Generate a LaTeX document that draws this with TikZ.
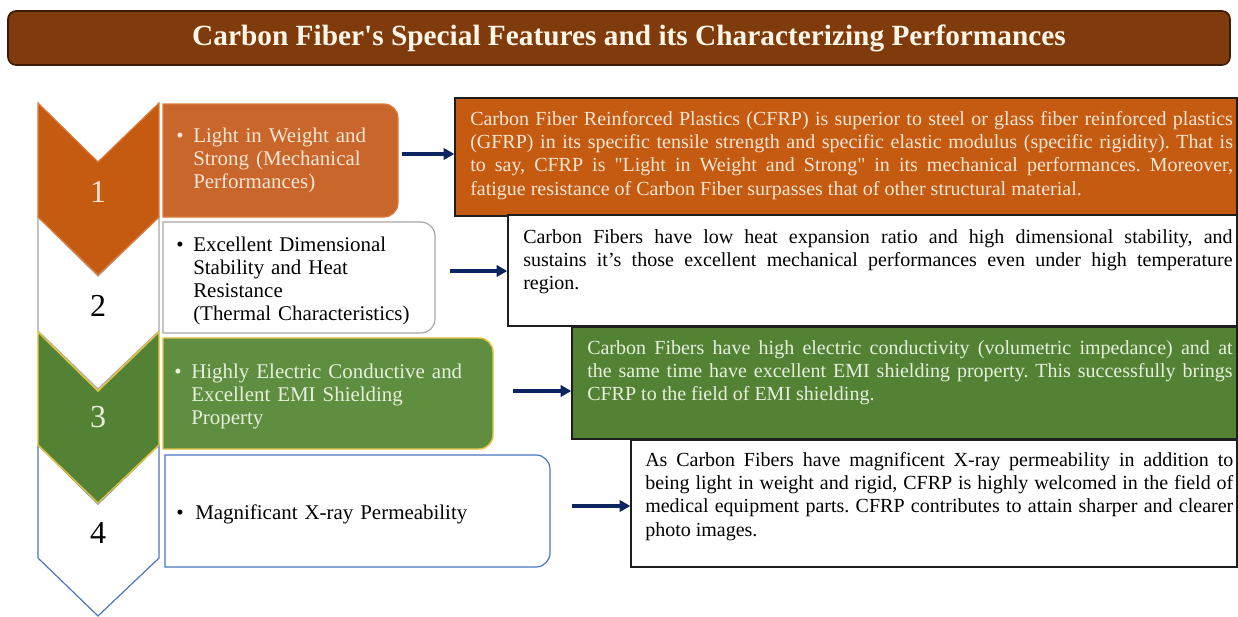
\documentclass[tikz,border=0pt]{standalone}
\usepackage{fontspec}
\setmainfont{Liberation Serif}[Ligatures=TeXOff]
\usetikzlibrary{arrows.meta,fit}
\definecolor{titlebg}{HTML}{7F3B0B}
\definecolor{titleln}{HTML}{3B1A06}
\definecolor{titletx}{HTML}{FFF6E8}
\definecolor{orng}{HTML}{C55A11}
\definecolor{orngbox}{HTML}{C8662C}
\definecolor{orngln}{HTML}{DD7A3A}
\definecolor{grn}{HTML}{548235}
\definecolor{grnbox}{HTML}{5F8E40}
\definecolor{gold}{HTML}{E2C23E}
\definecolor{grayln}{HTML}{A6A6A6}
\definecolor{blueln}{HTML}{4A76C0}
\definecolor{navy}{HTML}{0B2560}
\definecolor{creamO}{HTML}{F8E6D4}
\definecolor{creamG}{HTML}{E6F0DD}
\definecolor{dark}{HTML}{1E1E1E}
\newcommand\featshape[6]{\draw[#6] (#1,#2) -- ({#3-#5},#2) arc[start angle=-90,end angle=0,radius=#5] -- (#3,{#4-#5}) arc[start angle=0,end angle=90,radius=#5] -- (#1,#4) -- cycle;}
\newcommand\chevshape[3]{\draw[#3] (38,#1) -- (98,{#1+59}) -- (159,#1) -- (159,#2) -- (98,{#2+58}) -- (38,#2) -- cycle;}
\begin{document}
\frenchspacing
\begin{tikzpicture}[x=0.75pt,y=-0.75pt,
  body/.style={font=\fontsize{15}{17.5}\selectfont\frenchspacing},
  fbody/.style={font=\fontsize{15.7}{17.3}\selectfont\frenchspacing},
  desctext/.style={body, anchor=base west, inner sep=0pt, align=justify},
  feattext/.style={fbody, anchor=base west, inner sep=0pt, align=left, text width=260pt},
  bullet/.style={fbody, anchor=base west, inner sep=0pt},
  numtext/.style={font=\fontsize{24}{24}\selectfont, inner sep=0pt},
  descbox/.style={inner sep=0pt, line width=1.1pt},
  arr/.style={draw=navy, line width=2.4pt, -{Triangle[length=8pt,width=8.5pt]}}
]
\useasboundingbox (0,0) rectangle (1238,617);
\fill[white] (0,0) rectangle (1238,617);

% title
\draw[fill=titlebg, draw=titleln, line width=1.2pt, rounded corners=6pt] (8,11) rectangle (1230,65);
\node[text=titletx, font=\fontsize{22}{24}\selectfont\bfseries, inner sep=0pt] (title) at (629,38) {Carbon Fiber's Special Features and its Characterizing Performances};

% chevrons
\chevshape{217}{331}{fill=white, draw=grayln, line width=0.9pt}
\chevshape{103}{217}{fill=orng, draw=orngln, line width=0.9pt}
\chevshape{445}{558}{fill=white, draw=blueln, line width=0.9pt}
\chevshape{332}{445}{fill=grn, draw=gold, line width=1.1pt}
\node[numtext, text=creamO] (n1) at (98,192) {1};
\node[numtext, text=black] (n2) at (98,306) {2};
\node[numtext, text=creamG] (n3) at (98,417) {3};
\node[numtext, text=black] (n4) at (98,533) {4};

% feature boxes
\featshape{163}{104}{398}{217}{14}{fill=orngbox, draw=orngln, line width=0.9pt}
\featshape{163}{222}{435}{333}{14}{fill=white, draw=grayln, line width=0.9pt}
\featshape{163}{338}{493}{449}{14}{fill=grnbox, draw=gold, line width=1.1pt}
\featshape{165}{455}{550}{567}{14}{fill=white, draw=blueln, line width=0.9pt}

\node[bullet, text=creamO] (b1) at (176,142) {\textbullet};
\node[feattext, text=creamO] (f1) at (193,142) {Light in Weight and\\Strong (Mechanical\\Performances)};
\node[bullet, text=black] (b2) at (176,251) {\textbullet};
\node[feattext, text=black] (f2) at (193,251) {Excellent Dimensional\\Stability and Heat\\Resistance\\(Thermal Characteristics)};
\node[bullet, text=creamG] (b3) at (174,378) {\textbullet};
\node[feattext, text=creamG] (f3) at (191,378) {Highly Electric Conductive and\\Excellent EMI Shielding\\Property};
\node[bullet, text=black] (b4) at (176,519) {\textbullet};
\node[feattext, text=black] (f4) at (195,519) {Magnificant X-ray Permeability};

% description boxes
\node[descbox, fill=orng, draw=dark, fit={(455,98) (1237,216)}] (d1) {};
\node[descbox, fill=white, draw=dark, fit={(508,215) (1237,326)}] (d2) {};
\node[descbox, fill=grn, draw=dark, fit={(572,327) (1237,439)}] (d3) {};
\node[descbox, fill=white, draw=dark, fit={(631,440) (1237,567)}] (d4) {};

\node[desctext, text=creamO, text width=572pt] (t1) at (470,125) {Carbon Fiber Reinforced Plastics (CFRP) is superior to steel or glass fiber reinforced plastics\linebreak (GFRP) in its specific tensile strength and specific elastic modulus (specific rigidity). That is\linebreak to say, CFRP is "Light in Weight and Strong" in its mechanical performances. Moreover,\linebreak fatigue resistance of Carbon Fiber surpasses that of other structural material.};
\node[desctext, text=black, text width=532pt] (t2) at (523,243) {Carbon Fibers have low heat expansion ratio and high dimensional stability, and\linebreak sustains it’s those excellent mechanical performances even under high temperature\linebreak region.};
\node[desctext, text=creamG, text width=484pt] (t3) at (587,354) {Carbon Fibers have high electric conductivity (volumetric impedance) and at\linebreak the same time have excellent EMI shielding property. This successfully brings\linebreak CFRP to the field of EMI shielding.};
\node[desctext, text=black, text width=441pt] (t4) at (645,466) {As Carbon Fibers have magnificent X-ray permeability in addition to\linebreak being light in weight and rigid, CFRP is highly welcomed in the field of\linebreak medical equipment parts. CFRP contributes to attain sharper and clearer\linebreak photo images.};

% arrows
\coordinate (a1) at (402,154);
\coordinate (a2) at (450,271);
\coordinate (a3) at (513,391);
\coordinate (a4) at (572,506);
\draw[arr] (a1) -- (a1 -| d1.west);
\draw[arr] (a2) -- (a2 -| d2.west);
\draw[arr] (a3) -- (a3 -| d3.west);
\draw[arr] (a4) -- (a4 -| d4.west);
\end{tikzpicture}
\end{document}
